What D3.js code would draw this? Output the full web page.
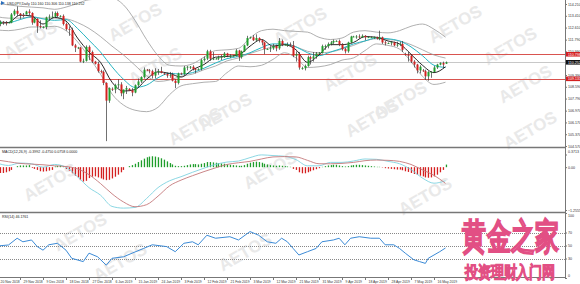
<!DOCTYPE html>
<html>
<head>
<meta charset="utf-8">
<script src="https://cdn.jsdelivr.net/npm/d3@7/dist/d3.min.js"></script>
<style>
  body { margin: 0; background: #fff; }
  svg { display: block; }
  text { font-family: "Liberation Sans", Arial, sans-serif; }
</style>
</head>
<body>
<div id="chart"></div>
<script>
// ---- data ----
var opens = [112.55,112.85,113.00,112.95,112.95,112.95,113.50,113.75,113.55,113.45,113.50,113.70,113.60,112.95,113.20,112.70,112.60,112.65,113.30,113.35,113.35,113.60,113.35,113.40,112.85,112.50,112.45,111.40,111.20,111.25,110.30,110.35,111.30,110.95,110.30,110.15,109.65,109.60,108.85,107.65,108.45,108.40,108.70,108.75,108.15,108.40,108.45,108.35,108.20,108.70,108.95,109.25,109.75,109.70,109.65,109.35,109.60,109.65,109.50,109.45,109.35,109.40,109.00,108.85,109.50,109.45,109.90,109.95,109.95,109.80,109.75,109.80,110.40,110.50,111.00,110.50,110.50,110.50,110.60,110.60,110.85,110.70,110.70,110.70,111.05,110.60,111.00,111.40,111.90,111.95,111.75,111.90,111.75,111.60,111.15,111.15,111.20,111.35,111.20,111.70,111.45,111.45,111.45,111.40,110.70,110.80,109.85,109.85,110.00,110.60,110.50,110.65,110.85,110.90,111.35,111.35,111.50,111.60,111.70,111.70,111.45,111.15,111.00,111.60,112.00,112.00,112.00,111.95,112.05,111.95,111.95,111.95,111.95,111.85,111.95,111.60,111.55,111.55,111.60,111.40,111.45,111.50,110.80,110.75,110.70,110.30,110.10,109.70,109.70,109.65,109.30,109.60,109.60,109.90,110.10,110.20,110.160];
var highs = [113.00,113.10,113.05,113.05,113.00,113.60,113.85,114.05,113.60,113.60,113.75,113.85,113.65,113.30,113.25,113.10,112.70,113.35,113.50,113.70,113.70,113.70,113.45,113.50,112.95,112.70,112.60,111.50,111.30,111.30,110.50,111.40,111.40,111.05,110.35,110.30,109.75,109.70,108.90,108.55,108.55,108.80,109.10,108.90,108.40,108.65,108.50,108.50,108.75,109.15,109.30,109.90,109.80,109.80,109.75,109.85,109.80,109.95,109.55,109.55,109.60,109.55,109.10,109.55,109.55,110.00,110.00,110.00,110.05,109.85,109.85,110.50,110.65,111.10,111.10,110.95,110.55,110.70,110.75,110.95,110.90,110.80,110.75,111.15,111.10,111.05,111.45,112.05,112.00,112.10,112.15,111.95,111.80,111.65,111.20,111.35,111.50,111.45,111.90,111.80,111.50,111.60,111.60,111.70,111.00,110.95,109.95,110.10,110.70,110.70,110.95,110.95,110.95,111.45,111.45,111.60,111.70,111.80,111.75,111.80,111.55,111.25,111.65,112.05,112.05,112.10,112.15,112.15,112.10,112.00,112.00,112.00,112.00,112.40,112.00,111.70,111.60,111.70,111.65,111.65,111.65,111.70,110.90,110.95,110.80,110.40,110.15,110.05,109.80,109.75,109.65,109.65,110.00,110.15,110.25,110.30,110.306];
var lows = [112.30,112.70,112.80,112.75,112.90,112.90,113.40,113.40,113.20,113.30,113.50,113.45,112.80,112.90,112.25,112.55,112.55,112.50,113.10,113.25,113.30,113.30,113.30,112.75,112.40,112.05,111.35,110.95,111.15,110.25,110.20,110.30,110.40,110.20,110.10,109.55,109.50,108.70,104.90,107.50,108.30,108.15,108.50,107.95,107.75,108.10,108.30,107.95,108.15,108.60,108.85,109.15,109.65,109.50,109.15,109.15,109.40,109.50,109.40,109.20,109.20,108.95,108.50,108.75,109.40,109.40,109.70,109.80,109.70,109.50,109.70,109.70,110.30,110.40,110.35,110.40,110.45,110.40,110.40,110.55,110.60,110.55,110.65,110.65,110.35,110.50,110.95,111.35,111.85,111.70,111.70,111.60,111.40,110.80,111.10,110.95,111.10,111.00,111.10,111.35,111.40,111.30,111.35,110.60,110.30,109.75,109.75,109.70,109.95,110.10,110.30,110.50,110.80,110.85,111.10,111.20,111.40,111.50,111.65,111.35,111.05,110.85,110.90,111.55,111.95,111.85,111.85,111.90,111.75,111.90,111.90,111.85,111.80,111.75,111.50,111.40,111.50,111.40,111.35,111.30,111.35,110.95,110.70,110.30,110.20,109.90,109.50,109.50,109.60,109.05,109.00,109.20,109.55,109.80,110.05,109.85,110.138];
var closes = [112.85,113.00,112.95,112.90,112.95,113.50,113.75,113.55,113.45,113.40,113.70,113.60,112.95,113.20,112.70,112.65,112.65,113.30,113.35,113.35,113.60,113.40,113.40,112.85,112.50,112.45,111.40,111.25,111.25,110.30,110.35,111.30,110.95,110.30,110.15,109.65,109.60,108.85,107.65,108.50,108.40,108.70,108.75,108.15,108.40,108.50,108.35,108.20,108.70,108.95,109.25,109.75,109.70,109.65,109.35,109.60,109.65,109.55,109.45,109.35,109.40,109.00,108.85,109.50,109.45,109.90,109.95,109.95,109.80,109.75,109.80,110.40,110.50,111.00,110.50,110.50,110.50,110.60,110.60,110.85,110.70,110.70,110.70,111.05,110.60,111.00,111.40,111.90,111.95,111.75,111.90,111.75,111.60,111.15,111.15,111.20,111.35,111.20,111.70,111.45,111.45,111.45,111.40,110.70,110.80,109.90,109.85,110.00,110.60,110.50,110.65,110.85,110.90,111.35,111.35,111.50,111.60,111.70,111.70,111.45,111.15,111.00,111.60,112.00,112.00,112.00,111.95,112.05,111.95,111.95,111.95,111.95,111.85,111.95,111.60,111.55,111.55,111.60,111.40,111.45,111.50,111.10,110.75,110.70,110.30,110.10,109.70,109.95,109.65,109.30,109.60,109.60,109.90,110.10,110.20,110.10,110.252];

// indicator lines, read every 4 bars
var lineBars = [0,4,8,12,16,20,24,28,32,36,40,44,48,52,56,60,64,68,72,76,80,84,88,92,96,100,104,108,112,116,120,124,128,132,136,140,144,148,152,156];
var bandUpper = [114.25,114.15,114.05,114.00,113.95,113.85,114.00,114.25,114.50,114.55,114.60,114.15,113.10,111.80,110.70,110.05,110.00,110.15,110.60,111.05,111.10,111.20,111.90,112.40,112.50,112.40,112.35,112.30,111.95,111.80,111.90,112.30,112.40,112.30,112.25,112.40,112.70,112.85,112.50,111.96];
var bandMiddle = [113.35,113.25,113.25,113.30,113.25,113.25,113.20,112.95,112.55,112.00,111.35,110.75,110.05,109.35,108.95,109.05,109.30,109.45,109.75,110.00,110.35,110.55,110.85,111.10,111.30,111.45,111.30,111.00,110.90,110.95,111.15,111.40,111.70,111.85,111.80,111.70,111.45,111.10,110.75,110.54];
var bandLower = [112.45,112.40,112.50,112.65,112.65,112.70,112.40,111.65,110.60,109.45,108.10,107.35,107.00,106.90,107.20,108.05,108.65,108.80,108.90,108.95,109.55,110.00,109.95,110.05,110.45,110.90,110.55,109.90,109.95,110.10,110.40,110.55,111.05,111.50,111.40,111.15,110.30,109.30,108.75,108.90];
var maFast = [112.90,112.95,113.45,113.40,112.85,113.30,113.05,111.90,110.95,110.25,108.90,108.30,108.40,109.10,109.60,109.50,109.25,109.75,110.10,110.60,110.65,110.75,111.35,111.80,111.35,111.45,111.10,110.25,110.75,111.45,111.45,111.60,112.00,111.95,111.70,111.50,110.80,110.05,109.55,109.95];
var maSlow = [113.00,112.95,113.15,113.35,113.20,113.10,113.15,112.55,111.75,110.95,109.95,109.10,108.55,108.70,109.20,109.50,109.45,109.55,109.85,110.20,110.50,110.65,110.90,111.25,111.50,111.50,111.30,110.90,110.70,110.95,111.20,111.50,111.70,111.90,111.85,111.70,111.30,110.70,110.05,109.90];

// MACD(12,26,9)
var macdHist = [-0.15,-0.17,-0.17,-0.15,-0.12,-0.08,0.00,0.03,0.05,0.05,0.05,0.06,-0.02,-0.05,-0.08,-0.12,-0.13,-0.12,-0.10,-0.08,0.02,0.04,0.05,0.03,-0.05,-0.10,-0.18,-0.25,-0.30,-0.38,-0.42,-0.40,-0.32,-0.28,-0.27,-0.30,-0.33,-0.36,-0.38,-0.37,-0.33,-0.28,-0.22,-0.15,-0.08,0.00,0.03,0.06,0.10,0.15,0.20,0.25,0.29,0.31,0.32,0.31,0.29,0.26,0.22,0.17,0.12,0.08,0.04,0.03,0.03,0.04,0.06,0.08,0.09,0.09,0.08,0.10,0.12,0.15,0.15,0.14,0.13,0.12,0.11,0.10,0.08,0.07,0.06,0.05,0.04,0.04,0.06,0.10,0.13,0.15,0.16,0.15,0.13,0.10,0.08,0.06,0.05,0.04,0.05,0.04,0.03,0.02,0.01,-0.05,-0.08,-0.15,-0.18,-0.18,-0.15,-0.12,-0.09,-0.06,-0.03,0.01,0.03,0.05,0.06,0.07,0.07,0.05,0.03,0.02,0.03,0.05,0.06,0.07,0.07,0.06,0.05,0.04,0.03,0.02,0.01,0.01,-0.01,-0.03,-0.04,-0.05,-0.06,-0.07,-0.07,-0.09,-0.12,-0.14,-0.17,-0.20,-0.23,-0.25,-0.27,-0.30,-0.31,-0.30,-0.27,-0.22,-0.15,-0.08,0.0758];
var macdMain = [0.12,0.05,0.12,0.10,0.00,0.08,0.00,-0.28,-0.60,-0.82,-1.15,-1.20,-1.18,-0.92,-0.60,-0.40,-0.28,-0.15,-0.03,0.08,0.15,0.18,0.28,0.36,0.34,0.32,0.22,0.04,0.04,0.14,0.14,0.18,0.24,0.23,0.17,0.10,-0.07,-0.32,-0.47,-0.3992];
var macdSignal = [0.21,0.16,0.11,0.09,0.07,0.04,0.02,-0.05,-0.22,-0.48,-0.78,-1.02,-1.16,-1.10,-0.85,-0.55,-0.38,-0.25,-0.13,-0.02,0.08,0.13,0.17,0.24,0.30,0.31,0.30,0.20,0.10,0.10,0.11,0.14,0.19,0.21,0.20,0.17,0.08,-0.08,-0.24,-0.4750];

// RSI(14)
var rsiBars = [0,4,7,9,12,14,16,18,21,24,26,30,32,35,38,40,44,47,51,54,59,62,65,68,70,73,76,81,84,88,91,94,97,99,101,103,105,108,111,113,117,119,121,123,126,130,133,135,138,140,142,145,147,149,150,152,154,156];
var rsiValues = [49.2,50.8,61.2,55.7,58.5,48.3,42.8,51.1,53.4,42.8,30.3,25.2,38.2,32.6,19.7,30.3,32.6,38.2,45.5,51.1,48.3,40.5,53.4,55.7,51.1,65.8,61.2,63.5,58.5,71.4,65.8,55.7,53.4,61.2,55.7,45.5,35.4,40.5,45.5,55.7,58.5,61.2,51.1,61.2,63.5,61.2,61.2,51.1,51.1,45.5,38.2,28.0,25.2,22.5,30.3,35.4,40.5,46.1761];

// axes text
var priceTicks = [114.210,113.410,112.610,111.790,110.990,109.390,108.590,107.790,106.970,106.170,105.370,104.570];
var dateLabels = ['20 Nov 2018','29 Nov 2018','9 Dec 2018','18 Dec 2018','27 Dec 2018','6 Jan 2019','15 Jan 2019','24 Jan 2019','3 Feb 2019','12 Feb 2019','21 Feb 2019','3 Mar 2019','12 Mar 2019','21 Mar 2019','31 Mar 2019','9 Apr 2019','18 Apr 2019','28 Apr 2019','7 May 2019','16 May 2019'];
var dateLabelBars = [0,8,16,24,32,40,48,56,64,72,80,88,96,104,112,120,128,136,144,152];
var rsiLevels = [70,50,30];
var rsiTicks = [100,70,50,30,0];
var macdTicks = [0.3713,0.00,-1.2555];
var levelLines = [110.798,109.131];
var lastPrice = 110.252;

var W = 580, H = 284;
var axisX = 565;
var fs = '3.6px';

var svg = d3.select('#chart').append('svg')
  .attr('width', W)
  .attr('height', H);

var x = d3.scaleLinear().domain([0, 156]).range([-3, -3 + 156 * 2.875]);
var y = d3.scaleLinear().domain([104.57, 114.21]).range([146, 4]);
var yMacd = d3.scaleLinear().domain([-1.2555, 0.3713]).range([210, 154.5]);
var yRsi = d3.scaleLinear().domain([0, 100]).range([278, 213]);

// watermarks (drawn first, under everything)
var marks = [[135,22],[300,26],[455,24],[510,46],[155,66],[350,72],[525,84],[30,40],[225,112],[372,118],[195,126],[50,182],[425,196],[80,232],[400,100],[530,130],[270,170],[245,252],[120,262]];
svg.selectAll('text.wm')
  .data(marks)
  .enter()
  .append('text')
  .attr('class', 'wm')
  .attr('transform', function (d) { return 'translate(' + d[0] + ',' + d[1] + ') rotate(-30)'; })
  .attr('text-anchor', 'middle')
  .attr('dy', '0.35em')
  .attr('font-family', '"DejaVu Sans", sans-serif')
  .attr('font-size', '17px')
  .attr('font-weight', 'bold')
  .attr('fill', '#e9e9e9')
  .text('AETOS');

// panel frames
svg.append('line').attr('x1', 0).attr('x2', axisX).attr('y1', 147.5).attr('y2', 147.5).attr('stroke', '#777').attr('stroke-width', 1.5);
svg.append('line').attr('x1', 0).attr('x2', axisX).attr('y1', 212.5).attr('y2', 212.5).attr('stroke', '#777').attr('stroke-width', 1.5);
svg.append('line').attr('x1', 0).attr('x2', axisX).attr('y1', 277.5).attr('y2', 277.5).attr('stroke', '#777');
svg.append('line').attr('x1', axisX + 0.5).attr('x2', axisX + 0.5).attr('y1', 0).attr('y2', 278).attr('stroke', '#777');

// ---- main panel ----
var main = svg.append('g');

main.selectAll('.level')
  .data(levelLines)
  .enter()
  .append('line')
  .attr('class', 'level')
  .attr('x1', 0).attr('x2', axisX)
  .attr('y1', function (d) { return Math.round(y(d)) + 0.5; })
  .attr('y2', function (d) { return Math.round(y(d)) + 0.5; })
  .attr('stroke', '#d9534f')
  .attr('stroke-width', 1);

main.append('line')
  .attr('x1', 0).attr('x2', axisX)
  .attr('y1', Math.round(y(lastPrice)) + 0.5)
  .attr('y2', Math.round(y(lastPrice)) + 0.5)
  .attr('stroke', '#c8c8c8');

function priceLine(values, color, width) {
  var line = d3.line()
    .x(function (d, i) { return x(lineBars[i]); })
    .y(function (d) { return y(d); })
    .curve(d3.curveMonotoneX);
  main.append('path')
    .attr('d', line(values))
    .attr('fill', 'none')
    .attr('stroke', color)
    .attr('stroke-width', width);
}
priceLine(bandUpper, '#9a9a9a', 0.8);
priceLine(bandMiddle, '#9a9a9a', 0.8);
priceLine(bandLower, '#9a9a9a', 0.8);
priceLine(maSlow, '#27b5c2', 1);
priceLine(maFast, '#111', 0.9);

var bars = d3.range(closes.length);
main.selectAll('.wick')
  .data(bars)
  .enter()
  .append('line')
  .attr('class', 'wick')
  .attr('x1', function (i) { return Math.round(x(i)) + 0.5; })
  .attr('x2', function (i) { return Math.round(x(i)) + 0.5; })
  .attr('y1', function (i) { return y(highs[i]); })
  .attr('y2', function (i) { return y(lows[i]); })
  .attr('stroke', '#333')
  .attr('stroke-width', 0.7);

main.selectAll('.body')
  .data(bars)
  .enter()
  .append('rect')
  .attr('class', 'body')
  .attr('x', function (i) { return Math.round(x(i)) - 0.5; })
  .attr('width', 2)
  .attr('y', function (i) { return y(Math.max(opens[i], closes[i])); })
  .attr('height', function (i) { return Math.max(0.8, Math.abs(y(opens[i]) - y(closes[i]))); })
  .attr('fill', function (i) { return closes[i] >= opens[i] ? '#1f9e2c' : '#d42020'; });

// header
main.append('path').attr('d', 'M1,1 L5,3 L1,5 Z').attr('fill', '#2a6ebb');
main.append('text').attr('x', 7).attr('y', 4.5).attr('font-size', fs).attr('fill', '#222')
  .text('USDJPY,Daily  110.160 110.306 110.138 110.252');

// price axis
var priceAxis = svg.append('g')
  .attr('transform', 'translate(' + axisX + ',0)')
  .call(d3.axisRight(y).tickValues(priceTicks).tickFormat(d3.format('.3f')).tickSize(2));
priceAxis.select('.domain').remove();
priceAxis.selectAll('line').attr('stroke', '#777');
priceAxis.selectAll('text').attr('font-size', fs).attr('fill', '#333').attr('x', 3);

function priceTag(value, bg) {
  var yy = y(value);
  svg.append('rect').attr('x', axisX + 1).attr('y', yy - 2.3).attr('width', 14).attr('height', 4.6).attr('fill', bg);
  svg.append('text').attr('x', axisX + 3).attr('y', yy + 1.3).attr('font-size', fs).attr('fill', '#fff')
    .text(value.toFixed(3));
}
levelLines.forEach(function (v) { priceTag(v, '#d42020'); });
priceTag(lastPrice, '#111');

// ---- MACD panel ----
var zero = yMacd(0);
svg.selectAll('.hist')
  .data(macdHist)
  .enter()
  .append('rect')
  .attr('class', 'hist')
  .attr('x', function (d, i) { return Math.round(x(i)) - 0.2; })
  .attr('width', 1.3)
  .attr('y', function (d) { return Math.min(zero, yMacd(d)); })
  .attr('height', function (d) { return Math.abs(yMacd(d) - zero); })
  .attr('fill', function (d) { return d >= 0 ? '#1f9e2c' : '#d42020'; });

function macdLine(values, color) {
  var line = d3.line()
    .x(function (d, i) { return x(lineBars[i]); })
    .y(function (d) { return yMacd(d); })
    .curve(d3.curveMonotoneX);
  svg.append('path').attr('d', line(values)).attr('fill', 'none').attr('stroke', color).attr('stroke-width', 0.9);
}
macdLine(macdMain, '#7fd3e0');
macdLine(macdSignal, '#c4787a');

svg.append('text').attr('x', 2).attr('y', 152.5).attr('font-size', fs).attr('fill', '#222')
  .text('MACD(12,26,9) -0.3992 -0.4750 0.0758 0.0000');

// MT4 pins the max/min labels to the window edges
var macdAxis = svg.append('g')
  .attr('transform', 'translate(' + axisX + ',0)')
  .call(d3.axisRight(yMacd).tickValues(macdTicks).tickFormat(function (d) { return d === 0 ? '0.00' : d3.format('.4f')(d); }).tickSize(2));
macdAxis.select('.domain').remove();
macdAxis.selectAll('line').attr('stroke', '#777');
macdAxis.selectAll('text').attr('font-size', fs).attr('fill', '#333').attr('x', 3)
  .attr('dy', function (d) { return d > 0 ? '-0.6em' : '0.32em'; });

// ---- RSI panel ----
svg.selectAll('.rsiLevel')
  .data(rsiLevels)
  .enter()
  .append('line')
  .attr('class', 'rsiLevel')
  .attr('x1', 0).attr('x2', axisX)
  .attr('y1', function (d) { return Math.round(yRsi(d)) + 0.5; })
  .attr('y2', function (d) { return Math.round(yRsi(d)) + 0.5; })
  .attr('stroke', '#888')
  .attr('stroke-dasharray', '1,1');

var rsiLine = d3.line()
  .x(function (d, i) { return x(rsiBars[i]); })
  .y(function (d) { return yRsi(d); });
svg.append('path').attr('d', rsiLine(rsiValues)).attr('fill', 'none').attr('stroke', '#3b8ad6').attr('stroke-width', 1);

svg.append('text').attr('x', 2).attr('y', 217.5).attr('font-size', fs).attr('fill', '#222')
  .text('RSI(14) 46.1761');

var rsiAxis = svg.append('g')
  .attr('transform', 'translate(' + axisX + ',0)')
  .call(d3.axisRight(yRsi).tickValues(rsiTicks).tickSize(2));
rsiAxis.select('.domain').remove();
rsiAxis.selectAll('line').attr('stroke', '#777');
rsiAxis.selectAll('text').attr('font-size', fs).attr('fill', '#333').attr('x', 3)
  .attr('dy', function (d) { return d === 100 ? '1.1em' : (d === 0 ? '-0.4em' : '0.32em'); });

// ---- time axis ----
svg.selectAll('.date')
  .data(dateLabels)
  .enter()
  .append('text')
  .attr('class', 'date')
  .attr('x', function (d, i) { return x(dateLabelBars[i]) + 3.5; })
  .attr('y', 282.5)
  .attr('font-size', '3.4px')
  .attr('fill', '#333')
  .text(function (d) { return d; });
svg.selectAll('.dateTick')
  .data(dateLabelBars)
  .enter()
  .append('line')
  .attr('class', 'dateTick')
  .attr('x1', function (d) { return Math.round(x(d)) + 0.5; })
  .attr('x2', function (d) { return Math.round(x(d)) + 0.5; })
  .attr('y1', 278).attr('y2', 280)
  .attr('stroke', '#777');

// ---- site stamp (tall, narrow lettering) ----
svg.append('text')
  .attr('transform', 'translate(511,249) scale(1,1.5)')
  .attr('text-anchor', 'middle')
  .attr('font-family', '"Noto Sans CJK SC", sans-serif').attr('font-size', '24px').attr('font-weight', 'bold')
  .attr('fill', '#f6a9c1').attr('stroke', '#e24f84').attr('stroke-width', 0.9)
  .text('黄金之家');
svg.append('text')
  .attr('transform', 'translate(510,278) scale(1,1.3)')
  .attr('text-anchor', 'middle')
  .attr('font-family', '"Noto Sans CJK SC", sans-serif').attr('font-size', '13px').attr('font-weight', 'bold')
  .attr('fill', '#f6a9c1').attr('stroke', '#e24f84').attr('stroke-width', 0.7)
  .text('投资理财入门网');
</script>
</body>
</html>
